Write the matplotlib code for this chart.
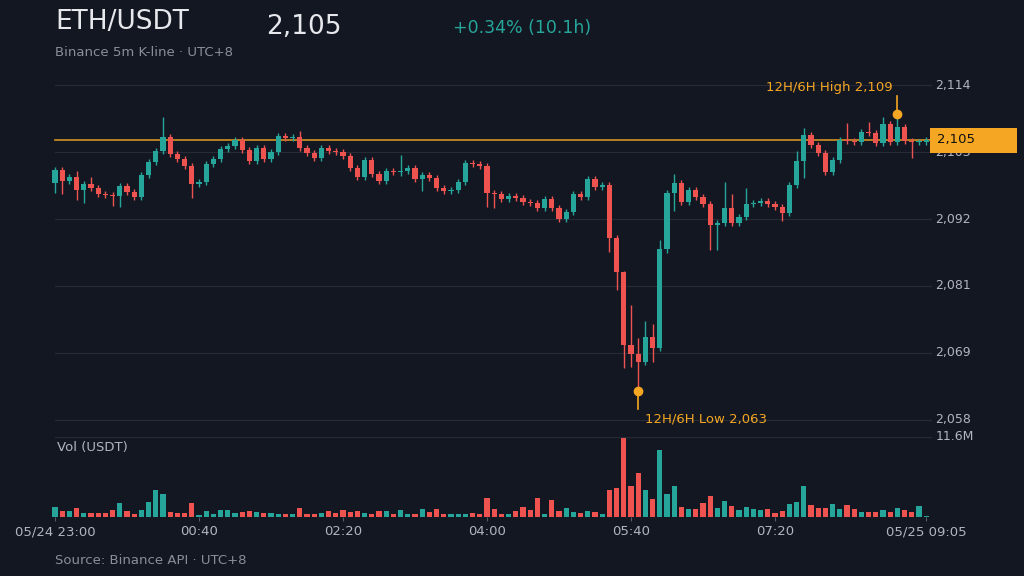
import matplotlib
matplotlib.use("Agg")
import matplotlib.pyplot as plt
import numpy as np

first_open = 2097.6
closes = [2099.8, 2097.9, 2098.6, 2096.4, 2097.4, 2096.8, 2095.8, 2095.6, 2095.4, 2097.1,
          2096.1, 2095.3, 2099.0, 2101.1, 2103.0, 2105.3, 2102.5, 2101.6, 2100.5, 2097.4,
          2097.8, 2100.8, 2101.6, 2103.3, 2103.8, 2104.8, 2103.1, 2101.3, 2103.5, 2101.6,
          2102.8, 2105.5, 2105.1, 2105.3, 2103.5, 2102.6, 2101.8, 2103.5, 2103.0, 2102.8,
          2102.1, 2100.1, 2098.6, 2101.5, 2099.1, 2097.9, 2099.6, 2099.5, 2099.6, 2100.1,
          2098.3, 2099.0, 2098.5, 2096.8, 2096.3, 2096.4, 2097.8, 2101.0, 2100.8, 2100.5,
          2095.9, 2095.8, 2094.9, 2095.4, 2095.1, 2094.4, 2094.3, 2093.4, 2094.9, 2093.4,
          2091.6, 2092.8, 2095.8, 2095.3, 2098.3, 2096.9, 2097.3, 2088.4, 2082.7, 2070.5,
          2069.0, 2067.7, 2071.9, 2070.0, 2086.6, 2095.9, 2097.6, 2094.4, 2096.4, 2095.3,
          2094.1, 2090.6, 2090.9, 2093.4, 2090.9, 2091.9, 2094.1, 2094.3, 2094.6, 2094.1,
          2093.6, 2092.6, 2097.3, 2101.3, 2105.6, 2104.0, 2102.6, 2099.5, 2101.5, 2104.8,
          2104.6, 2104.5, 2106.1, 2106.0, 2104.3, 2107.5, 2104.5, 2107.0, 2104.6, 2104.5,
          2104.5, 2104.8]
high_marks = {3: 2099.6, 5: 2098.6, 15: 2108.6, 34: 2106.3, 48: 2102.3, 79: 2082.9, 80: 2077.2,
              81: 2071.7, 82: 2074.6, 83: 2074.1, 84: 2088.1, 86: 2099.1, 93: 2097.8, 94: 2095.8,
              96: 2096.8, 103: 2103.0, 104: 2106.8, 110: 2107.6, 113: 2107.8, 115: 2108.6, 117: 2109.0}
low_marks = {0: 2096.0, 1: 2095.8, 3: 2094.8, 4: 2094.3, 8: 2093.8, 9: 2093.6, 19: 2095.1,
             48: 2098.8, 51: 2096.3, 60: 2093.6, 61: 2093.4, 77: 2086.1, 78: 2079.7, 79: 2066.7,
             80: 2066.8, 81: 2063.0, 83: 2067.7, 85: 2085.9, 86: 2092.9, 91: 2086.4, 92: 2086.4,
             101: 2091.3, 104: 2098.4, 119: 2101.8}
vol_m = [1.45, 0.87, 0.87, 1.35, 0.63, 0.58, 0.58, 0.58, 0.97, 2.03,
         0.87, 0.48, 1.06, 2.13, 3.86, 3.28, 0.77, 0.58, 0.58, 2.03,
         0.24, 0.87, 0.48, 1.06, 1.06, 0.58, 0.77, 0.87, 0.68, 0.58,
         0.58, 0.39, 0.48, 0.48, 1.35, 0.39, 0.39, 0.58, 0.87, 0.58,
         0.97, 0.68, 0.87, 0.58, 0.39, 0.87, 0.87, 0.39, 1.06, 0.48,
         0.48, 1.16, 0.68, 1.16, 0.48, 0.39, 0.39, 0.48, 0.58, 0.39,
         2.80, 1.16, 0.48, 0.48, 0.87, 1.45, 1.06, 2.80, 0.48, 2.51,
         0.87, 1.26, 0.77, 0.58, 0.87, 0.68, 0.39, 3.96, 4.15, 11.40,
         4.54, 6.38, 3.86, 2.61, 9.66, 3.28, 4.44, 1.45, 1.16, 1.16,
         2.03, 3.00, 1.35, 2.32, 1.55, 0.97, 1.45, 1.16, 0.97, 1.16,
         0.58, 0.87, 1.93, 2.22, 4.44, 1.74, 1.26, 1.35, 1.84, 1.16,
         1.74, 1.16, 0.77, 0.68, 0.68, 0.97, 0.68, 1.26, 1.06, 0.68,
         1.55, 0.19]
xtick_idx = [0, 20, 40, 60, 80, 100, 121]
xtick_labels = ["05/24 23:00", "00:40", "02:20", "04:00", "05:40", "07:20", "05/25 09:05"]
ytick_vals = [2058, 2069.2, 2080.4, 2091.6, 2102.8, 2114]
ytick_labels = ["2,058", "2,069", "2,081", "2,092", "2,103", "2,114"]
last_price = 2104.8
hi_idx, hi_val = 117, 2109
lo_idx, lo_val = 81, 2063

BG = "#131722"
GREEN = "#26a69a"
RED = "#ef5350"
ORANGE = "#f5a623"
GRID = "#262b36"
TXT = "#b2b5be"

n = len(closes)
opens = [first_open] + closes[:-1]
highs = [max(o, c) + 0.5 for o, c in zip(opens, closes)]
lows = [min(o, c) - 0.5 for o, c in zip(opens, closes)]
for k, v in high_marks.items():
    highs[k] = v
for k, v in low_marks.items():
    lows[k] = v
x = np.arange(n)
cols = [GREEN if c >= o else RED for o, c in zip(opens, closes)]

W, H = 1024, 576
fig = plt.figure(figsize=(W / 100, H / 100), dpi=100, facecolor=BG)
xl, xr = 45, 932
def rect(top, bot):
    return [xl / W, 1 - bot / H, (xr - xl) / W, (bot - top) / H]
ax = fig.add_axes(rect(70, 437))
axv = fig.add_axes(rect(437, 517), sharex=ax)
for a in (ax, axv):
    a.set_facecolor(BG)
    for s in a.spines.values():
        s.set_visible(False)
ppx = 7.2
ax.set_xlim(-(55 - xl) / ppx, (xr - 55) / ppx)
ax.set_ylim(2058 - 17 / 5.98, 2114 + 15 / 5.98)
gx0 = (55 - xl) / (xr - xl)

for yv in ytick_vals:
    ax.axhline(yv, color=GRID, lw=0.8, xmin=gx0, xmax=1, zorder=0)
ax.vlines(x, lows, highs, colors=cols, lw=1, zorder=2)
bh = [max(abs(c - o), 0.12) for o, c in zip(opens, closes)]
ax.bar(x, bh, bottom=[min(o, c) for o, c in zip(opens, closes)], width=0.72, color=cols, zorder=3)
ax.axhline(last_price, color=ORANGE, lw=1.2, alpha=0.85, zorder=1, xmin=gx0, xmax=1)
ax.set_yticks([])
ax.tick_params(axis="x", bottom=False, labelbottom=False)
for yv, lab in zip(ytick_vals, ytick_labels):
    ax.text(1.004, yv, lab, transform=ax.get_yaxis_transform(), color=TXT, fontsize=9,
            va="center", ha="left", clip_on=False, zorder=1)
# last price box (covers the 2,103 label as in the reference)
ax.add_patch(plt.Rectangle((930 / W, 1 - 153 / H), 87 / W, 25 / H, transform=fig.transFigure,
                           fc=ORANGE, ec="none", zorder=20, clip_on=False))
ax.text(937 / W, 1 - 140 / H, "2,105", transform=fig.transFigure, color="#111111",
        fontsize=9.5, va="center", ha="left", zorder=21, clip_on=False)

# high / low markers
ax.plot([hi_idx, hi_idx], [hi_val + 0.1, hi_val + 3.2], color=ORANGE, lw=1.2, zorder=4)
ax.plot(hi_idx, hi_val + 0.1, "o", color=ORANGE, ms=6, zorder=5)
ax.text(hi_idx - 0.7, hi_val + 4.5, "12H/6H High 2,109", color=ORANGE, fontsize=9.5, ha="right", va="center")
ax.plot([lo_idx, lo_idx], [lo_val - 0.2, lo_val - 3.2], color=ORANGE, lw=1.2, zorder=4)
ax.plot(lo_idx, lo_val - 0.2, "o", color=ORANGE, ms=6, zorder=5)
ax.text(lo_idx + 0.9, lo_val - 4.8, "12H/6H Low 2,063", color=ORANGE, fontsize=9.5, ha="left", va="center")

# volume
axv.bar(x, vol_m, width=0.72, color=cols)
axv.set_ylim(0, 11.6)
axv.axhline(11.6, color=GRID, lw=0.8, xmin=gx0, xmax=1)
axv.set_yticks([])
axv.text(1.004, 11.6, "11.6M", transform=axv.get_yaxis_transform(), color=TXT, fontsize=9,
         va="center", ha="left")
axv.text(57 / W, 1 - 447 / H, "Vol (USDT)", transform=fig.transFigure, color=TXT, fontsize=9.5, va="center")
axv.set_xticks(xtick_idx)
axv.set_xticklabels(xtick_labels, color=TXT, fontsize=9.5)
axv.tick_params(axis="x", color="#555a66", length=3, width=0.8, pad=3, labelcolor=TXT)

fig.text(55 / W, 1 - 22 / H, "ETH/USDT", color="#e6e8ec", fontsize=19, va="center")
fig.text(266 / W, 1 - 27 / H, "2,105", color="#e6e8ec", fontsize=19, va="center")
fig.text(453 / W, 1 - 28 / H, "+0.34% (10.1h)", color=GREEN, fontsize=12.5, va="center")
fig.text(55 / W, 1 - 52 / H, "Binance 5m K-line · UTC+8", color="#8a8e99", fontsize=9.5, va="center")
fig.text(55 / W, 1 - 561 / H, "Source: Binance API · UTC+8", color="#8a8e99", fontsize=9.5, va="center")

fig.savefig("out.png", dpi=100, facecolor=BG)
